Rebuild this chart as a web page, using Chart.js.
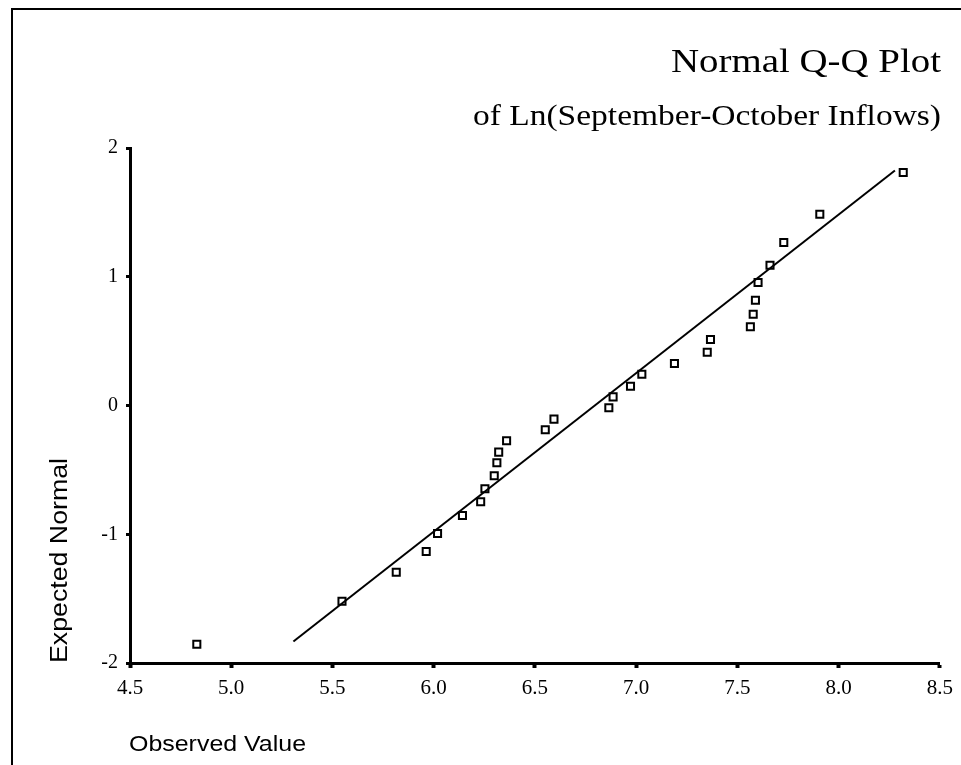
<!DOCTYPE html>
<html>
<head>
<meta charset="utf-8">
<script src="https://cdn.jsdelivr.net/npm/chart.js@4.4.0/dist/chart.umd.min.js"></script>
<style>
  html, body { margin: 0; padding: 0; background: #fff; }
  #wrap { width: 961px; height: 765px; position: relative; }
</style>
</head>
<body>
<div id="wrap"><canvas id="chart" width="961" height="765"></canvas></div>
<script>
// observed values (ln inflows) and their expected normal scores
const observed = [4.83, 5.547, 5.815, 5.963, 6.019, 6.142, 6.232, 6.253, 6.299, 6.312,
                  6.321, 6.360, 6.551, 6.594, 6.865, 6.886, 6.972, 7.028, 7.189, 7.351,
                  7.367, 7.564, 7.578, 7.589, 7.602, 7.661, 7.729, 7.907, 8.319];
const expected = [-1.854, -1.52, -1.295, -1.134, -0.994, -0.854, -0.748, -0.647, -0.546, -0.445,
                  -0.362, -0.274, -0.189, -0.106, -0.018, 0.067, 0.150, 0.243, 0.326, 0.414,
                  0.513, 0.611, 0.709, 0.818, 0.955, 1.090, 1.266, 1.486, 1.810];
// reference line end points
const lineX = [5.307, 8.278];
const lineY = [-1.833, 1.825];

const xTicks = [4.5, 5.0, 5.5, 6.0, 6.5, 7.0, 7.5, 8.0, 8.5];
const yTicks = [-2, -1, 0, 1, 2];

const serif = "'Liberation Serif', 'Times New Roman', serif";
const sans = "'Liberation Sans', Arial, sans-serif";

// draw text stretched to a given width (the scan's fonts run wide)
function fitText(ctx, text, x, y, width) {
  const s = width / ctx.measureText(text).width;
  ctx.save();
  ctx.translate(x, y);
  ctx.scale(s, 1);
  ctx.fillText(text, 0, 0);
  ctx.restore();
}

// titles, axis labels and frame drawn on the canvas
const decor = {
  id: 'decor',
  afterDraw(chart) {
    const ctx = chart.ctx;
    ctx.save();
    ctx.strokeStyle = '#000';
    ctx.lineWidth = 2;
    ctx.beginPath();
    ctx.moveTo(12, 765);
    ctx.lineTo(12, 9);
    ctx.lineTo(961, 9);
    ctx.stroke();

    ctx.fillStyle = '#000';
    ctx.textAlign = 'right';
    ctx.textBaseline = 'alphabetic';
    ctx.font = '34px ' + serif;
    fitText(ctx, 'Normal Q-Q Plot', 941, 72, 270);
    ctx.font = '29px ' + serif;
    fitText(ctx, 'of Ln(September-October Inflows)', 941, 125, 468);

    ctx.textAlign = 'left';
    ctx.font = '22px ' + sans;
    fitText(ctx, 'Observed Value', 129, 751, 177);

    ctx.translate(67, 663);
    ctx.rotate(-Math.PI / 2);
    ctx.textAlign = 'left';
    ctx.textBaseline = 'alphabetic';
    ctx.font = '23px ' + sans;
    fitText(ctx, 'Expected Normal', 0, 0, 205);
    ctx.restore();
  }
};

new Chart(document.getElementById('chart'), {
  data: {
    datasets: [
      {
        type: 'line',
        data: lineX.map((x, i) => ({ x: x, y: lineY[i] })),
        borderColor: '#000',
        borderWidth: 2,
        pointRadius: 0,
        fill: false
      },
      {
        type: 'scatter',
        data: observed.map((x, i) => ({ x: x, y: expected[i] })),
        pointStyle: 'rect',
        pointRadius: 5,
        pointBorderWidth: 2,
        pointBorderColor: '#000',
        pointBackgroundColor: '#fff'
      }
    ]
  },
  options: {
    responsive: false,
    animation: false,
    layout: { padding: { left: 0, top: 148, right: 21, bottom: 0 } },
    plugins: { legend: { display: false }, tooltip: { enabled: false } },
    scales: {
      x: {
        type: 'linear',
        min: 4.5,
        max: 8.5,
        afterBuildTicks: (s) => { s.ticks = xTicks.map(v => ({ value: v })); },
        afterFit: (s) => { s.height = 102; },
        border: { display: true, color: '#000', width: 3 },
        grid: { drawOnChartArea: false, drawTicks: true, tickLength: 5, tickWidth: 4, color: '#000' },
        ticks: {
          color: '#000',
          font: { family: serif, size: 21 },
          padding: 8,
          maxRotation: 0,
          callback: (v) => Number(v).toFixed(1)
        }
      },
      y: {
        type: 'linear',
        min: -2,
        max: 2,
        afterBuildTicks: (s) => { s.ticks = yTicks.map(v => ({ value: v })); },
        afterFit: (s) => { s.width = 130; },
        border: { display: true, color: '#000', width: 3 },
        grid: { drawOnChartArea: false, drawTicks: true, tickLength: 4, tickWidth: 3, color: '#000' },
        ticks: {
          color: '#000',
          font: { family: serif, size: 20 },
          padding: 8,
          callback: (v) => String(v)
        }
      }
    }
  },
  plugins: [decor]
});
</script>
</body>
</html>
